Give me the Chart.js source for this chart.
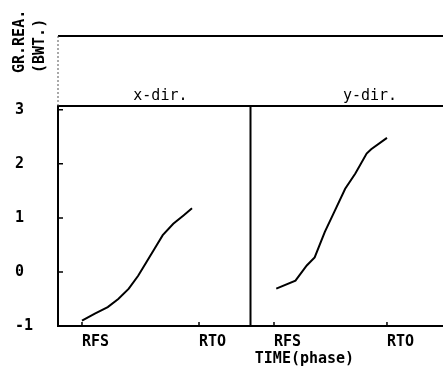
<!DOCTYPE html>
<html>
<head>
<meta charset="utf-8">
<script src="https://cdn.jsdelivr.net/npm/chart.js@4.4.1/dist/chart.umd.min.js"></script>
<style>
  html, body { margin: 0; padding: 0; background: #fff; }
  #wrap { width: 443px; height: 372px; position: relative; }
</style>
</head>
<body>
<div id="wrap"><canvas id="c" width="443" height="372"></canvas></div>
<script>
// ---- data (phase units: RFS = 0, RTO = 1) ----
const panelTitles = ['x-dir.', 'y-dir.'];
const xTickValues = [0, 1];
const xTickLabels = ['RFS', 'RTO'];
const yTickValues = [-1, 0, 1, 2, 3];
const yAxisTitle = ['GR.REA.', '(BWT.)'];
const xAxisTitle = 'TIME(phase)';

const xDirPhase = [0.00, 0.11, 0.22, 0.31, 0.40, 0.48, 0.55, 0.62, 0.69, 0.78, 0.87, 0.94];
const xDirValue = [-0.90, -0.77, -0.65, -0.50, -0.31, -0.07, 0.18, 0.43, 0.68, 0.89, 1.05, 1.18];

const yDirPhase = [0.02, 0.19, 0.29, 0.36, 0.45, 0.54, 0.63, 0.72, 0.82, 0.86, 1.00];
const yDirValue = [-0.31, -0.16, 0.12, 0.27, 0.74, 1.14, 1.54, 1.82, 2.19, 2.27, 2.48];

const yMin = -1, yMax = 4.365, ySeparator = 3.07;

const toPoints = (xs, ys) => xs.map((x, i) => ({ x: x, y: ys[i] }));

const tickFont = { family: 'DejaVu Sans Mono', size: 15, weight: 'bold' };
const labelFont = '15px "DejaVu Sans Mono"';
const boldFont = 'bold 15px "DejaVu Sans Mono"';

function xScaleCfg(min, max) {
  return {
    type: 'linear', position: 'bottom', stack: 'panels', stackWeight: 1,
    min: min, max: max,
    grid: { display: false, drawTicks: false },
    border: { display: true, color: '#000', width: 2 },
    afterBuildTicks: s => { s.ticks = xTickValues.map(v => ({ value: v })); },
    afterFit: s => { s.height = 46; s.paddingLeft = 0; s.paddingRight = 0; },
    ticks: {
      align: 'start', padding: 7, color: '#000', font: tickFont, maxRotation: 0,
      callback: v => xTickLabels[xTickValues.indexOf(v)]
    }
  };
}

const framePlugin = {
  id: 'frame',
  afterDraw(chart) {
    const ctx = chart.ctx, a = chart.chartArea;
    const ys = chart.scales.y, x1 = chart.scales.x1, x2 = chart.scales.x2;
    const sepY = ys.getPixelForValue(ySeparator);
    const topY = ys.getPixelForValue(yMax);
    const botY = ys.getPixelForValue(yMin);
    ctx.save();
    ctx.strokeStyle = '#000';
    ctx.lineWidth = 2;
    ctx.beginPath();
    ctx.moveTo(a.left, topY); ctx.lineTo(a.right, topY);
    ctx.moveTo(a.left - 1, sepY); ctx.lineTo(a.right, sepY);
    ctx.moveTo(a.left, botY); ctx.lineTo(a.left, sepY);
    ctx.moveTo(x2.left, botY); ctx.lineTo(x2.left, sepY);
    ctx.stroke();
    // dotted axis above the separator
    ctx.setLineDash([2, 2]);
    ctx.lineWidth = 1;
    ctx.strokeStyle = '#555';
    ctx.beginPath();
    ctx.moveTo(a.left, sepY); ctx.lineTo(a.left, topY);
    ctx.stroke();
    ctx.setLineDash([]);
    // inner tick marks
    ctx.strokeStyle = '#000';
    ctx.lineWidth = 1.5;
    ctx.beginPath();
    yTickValues.forEach(v => {
      if (v === yMin) return;
      const p = ys.getPixelForValue(v);
      ctx.moveTo(a.left, p); ctx.lineTo(a.left + 5, p);
    });
    [x1, x2].forEach(s => xTickValues.forEach(v => {
      const p = s.getPixelForValue(v);
      ctx.moveTo(p, botY); ctx.lineTo(p, botY - 4);
    }));
    ctx.stroke();
    // panel titles
    ctx.fillStyle = '#000';
    ctx.font = labelFont;
    ctx.textAlign = 'center';
    ctx.textBaseline = 'alphabetic';
    ctx.fillText(panelTitles[0], x1.getPixelForValue(0.67), sepY - 6);
    ctx.fillText(panelTitles[1], x2.getPixelForValue(0.85), sepY - 6);
    // x-axis title
    ctx.font = boldFont;
    ctx.textAlign = 'left';
    ctx.textBaseline = 'top';
    ctx.fillText(xAxisTitle, x2.getPixelForValue(-0.17), botY + 26);
    // y-axis title (rotated)
    ctx.save();
    ctx.rotate(-Math.PI / 2);
    ctx.textAlign = 'left';
    ctx.textBaseline = 'middle';
    ctx.fillText(yAxisTitle[0], -73, 20);
    ctx.fillText(yAxisTitle[1], -73, 40);
    ctx.restore();
    ctx.restore();
  }
};

new Chart(document.getElementById('c'), {
  type: 'line',
  data: {
    datasets: [
      { label: panelTitles[0], data: toPoints(xDirPhase, xDirValue), xAxisID: 'x1', yAxisID: 'y',
        borderColor: '#000', borderWidth: 2, pointRadius: 0, tension: 0, fill: false },
      { label: panelTitles[1], data: toPoints(yDirPhase, yDirValue), xAxisID: 'x2', yAxisID: 'y',
        borderColor: '#000', borderWidth: 2, pointRadius: 0, tension: 0, fill: false }
    ]
  },
  options: {
    responsive: false,
    animation: false,
    events: [],
    layout: { padding: { left: 15, right: 0, top: 36, bottom: 0 } },
    plugins: { legend: { display: false }, tooltip: { enabled: false } },
    scales: {
      x1: xScaleCfg(-0.205, 1.440),
      x2: xScaleCfg(-0.208, 1.496),
      y: {
        type: 'linear', position: 'left', min: yMin, max: yMax,
        grid: { display: false, drawTicks: false },
        border: { display: false },
        afterBuildTicks: s => { s.ticks = yTickValues.map(v => ({ value: v })); },
        afterFit: s => { s.width = 43; s.paddingTop = 0; s.paddingBottom = 0; },
        ticks: { crossAlign: 'far', padding: 0, color: '#000', font: tickFont,
                 callback: v => String(v) }
      }
    }
  },
  plugins: [framePlugin]
});
</script>
</body>
</html>
